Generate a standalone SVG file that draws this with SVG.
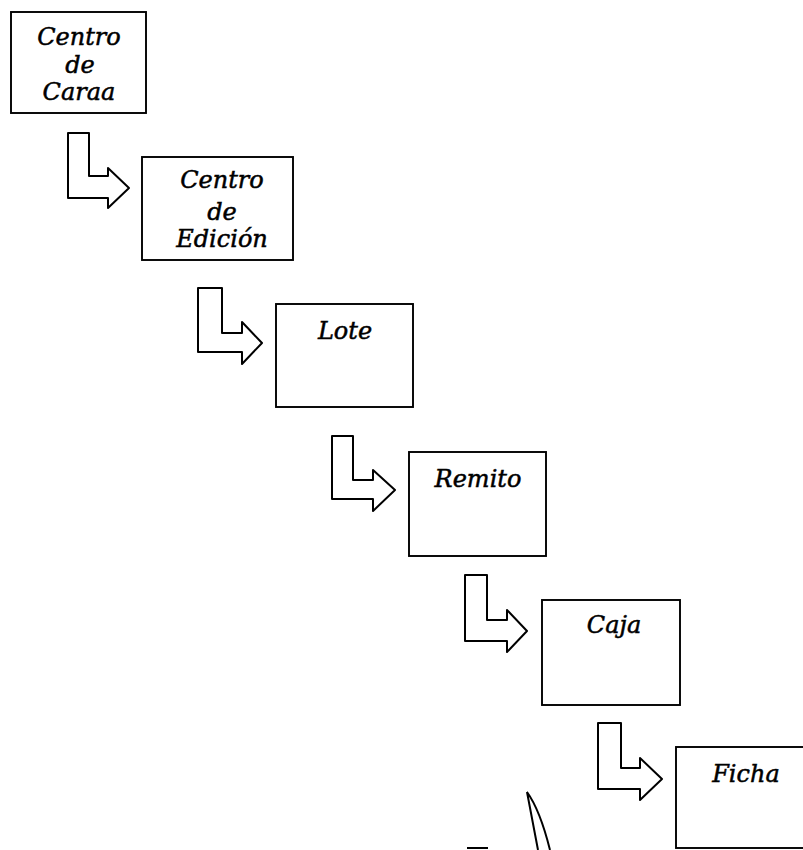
<svg xmlns="http://www.w3.org/2000/svg" width="803" height="850" viewBox="0 0 803 850">
<style>
.box{fill:#fff;stroke:#000;stroke-width:1.9}
.arrow{fill:#fff;stroke:#000;stroke-width:2;stroke-linejoin:round}
.lbl{font-family:"DejaVu Serif","Liberation Serif",serif;font-style:italic;font-size:24px;fill:#000;stroke:#000;stroke-width:0.5;text-anchor:middle}
.stray{fill:none;stroke:#000;stroke-width:2}
</style>
<rect width="803" height="850" fill="#fff"/>
<g id="connectors">
<path class="arrow" d="M68,133 L89,133 L89,176 L108,176 L108,168 L129,188 L108,208 L108,198 L68,198 Z"/>
<path class="arrow" d="M198,288 L222,288 L222,333 L242,333 L242,322 L262,343 L242,364 L242,352 L198,352 Z"/>
<path class="arrow" d="M332,436 L353,436 L353,480 L373,480 L373,470 L395,490 L373,511 L373,499 L332,499 Z"/>
<path class="arrow" d="M465,575 L487,575 L487,620 L507,620 L507,610 L527,631 L507,652 L507,641 L465,641 Z"/>
<path class="arrow" d="M598,723 L621,723 L621,768 L640,768 L640,758 L662,779 L640,800 L640,789 L598,789 Z"/>
</g>
<g id="n1">
<rect class="box" x="11" y="12" width="135" height="101"/>
<text class="lbl" x="79" y="45">Centro</text>
<text class="lbl" x="80" y="73">de</text>
<text class="lbl" x="79" y="100">Caraa</text>
</g>
<g id="n2">
<rect class="box" x="142" y="157" width="151" height="103"/>
<text class="lbl" x="222" y="188">Centro</text>
<text class="lbl" x="222" y="220">de</text>
<text class="lbl" x="222" y="247">Edición</text>
</g>
<g id="n3">
<rect class="box" x="276" y="304" width="137" height="103"/>
<text class="lbl" x="345" y="339">Lote</text>
</g>
<g id="n4">
<rect class="box" x="409" y="452" width="137" height="104"/>
<text class="lbl" x="478" y="487">Remito</text>
</g>
<g id="n5">
<rect class="box" x="542" y="600" width="138" height="105"/>
<text class="lbl" x="614" y="633">Caja</text>
</g>
<g id="n6">
<rect class="box" x="676" y="747" width="140" height="101"/>
<text class="lbl" x="746" y="782">Ficha</text>
</g>
<g id="stray">
<path class="stray" d="M538,850 L527,792 Q540,810 550,850"/>
<path class="stray" d="M467,848 L488,848"/>
</g>
</svg>
